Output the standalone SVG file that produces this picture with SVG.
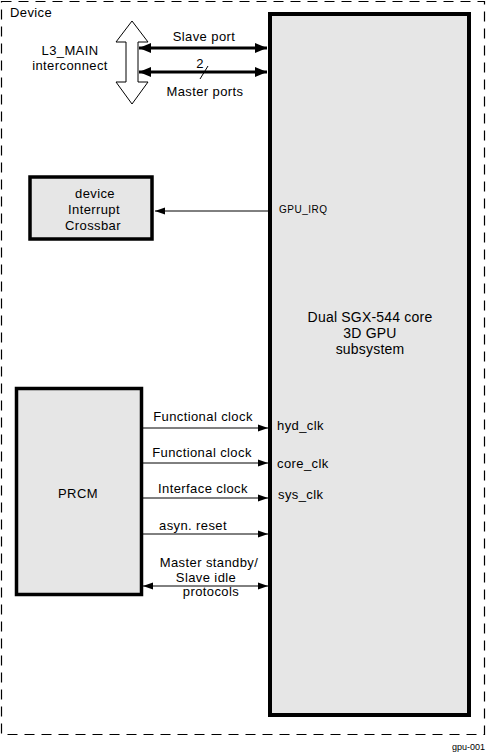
<svg xmlns="http://www.w3.org/2000/svg" width="487" height="754" viewBox="0 0 487 754">
<style>
text{font-family:"Liberation Sans",Arial,sans-serif;font-size:13px;letter-spacing:0.4px;fill:#000}
.box{fill:#e6e6e6;stroke:#000}
.thin{stroke:#000;stroke-width:1;fill:none}
.thick{stroke:#000;stroke-width:3;fill:none}
.m{text-anchor:middle}
.big{font-size:14px;letter-spacing:0.2px}
</style>
<defs>
<marker id="ah" markerUnits="userSpaceOnUse" markerWidth="10" markerHeight="10" viewBox="0 0 10 10" refX="10" refY="5" orient="auto-start-reverse">
<path d="M0,1.5 L10,5 L0,8.5 Z" fill="#000"/>
</marker>
<marker id="ahb" markerUnits="userSpaceOnUse" markerWidth="12" markerHeight="12" viewBox="0 0 12 12" refX="12" refY="6" orient="auto-start-reverse">
<path d="M0,1 L12,6 L0,11 Z" fill="#000"/>
</marker>
</defs>
<rect x="1.5" y="1.5" width="483" height="733" fill="#fff" stroke="#000" stroke-width="1.2" stroke-dasharray="10,7"/>
<text x="10" y="17">Device</text>

<g id="gpu">
<rect class="box" x="270" y="14" width="199" height="701" stroke-width="4"/>
<text class="m big" x="370" y="322">Dual SGX-544 core</text>
<text class="m big" x="370" y="338">3D GPU</text>
<text class="m big" x="370" y="354">subsystem</text>
<text x="279" y="213" style="font-size:10px;letter-spacing:0.5px">GPU_IRQ</text>
<text x="277" y="430">hyd_clk</text>
<text x="277" y="468">core_clk</text>
<text x="278" y="499">sys_clk</text>
</g>

<g id="l3main">
<polygon points="132,21 148,42 138,42 138,82 148,82 132,104 116,82 126,82 126,42 116,42" fill="#fff" stroke="#000" stroke-width="1"/>
<text class="m" x="70" y="55">L3_MAIN</text>
<text class="m" x="70" y="70">interconnect</text>
</g>

<g id="crossbar">
<rect class="box" x="30" y="177" width="122" height="62" stroke-width="3.5"/>
<text class="m" x="95" y="198">device</text>
<text class="m" x="94" y="214">Interrupt</text>
<text class="m" x="93" y="230">Crossbar</text>
</g>

<g id="prcm">
<rect class="box" x="16.5" y="388.5" width="125" height="206" stroke-width="3.5"/>
<text class="m" x="78" y="498">PRCM</text>
</g>

<g id="connectors">
<line class="thick" x1="139" y1="48" x2="267" y2="48" marker-start="url(#ahb)" marker-end="url(#ahb)"/>
<text class="m" x="204" y="41">Slave port</text>
<line class="thick" x1="139" y1="72" x2="267" y2="72" marker-start="url(#ahb)" marker-end="url(#ahb)"/>
<line class="thin" x1="200" y1="79" x2="208" y2="66"/>
<text class="m" x="200" y="68">2</text>
<text class="m" x="205" y="96">Master ports</text>

<line class="thin" x1="268" y1="211" x2="155" y2="211" marker-end="url(#ah)"/>

<line class="thin" x1="143" y1="428" x2="268" y2="428" marker-end="url(#ah)"/>
<text class="m" x="203" y="421">Functional clock</text>
<line class="thin" x1="143" y1="463" x2="268" y2="463" marker-end="url(#ah)"/>
<text class="m" x="202" y="457">Functional clock</text>
<line class="thin" x1="143" y1="498" x2="268" y2="498" marker-end="url(#ah)"/>
<text class="m" x="203" y="493">Interface clock</text>
<line class="thin" x1="143" y1="534" x2="268" y2="534" marker-end="url(#ah)"/>
<text x="159" y="530">asyn. reset</text>
<line class="thin" x1="143" y1="586" x2="268" y2="586" marker-start="url(#ah)" marker-end="url(#ah)"/>
<text class="m" x="209" y="567">Master standby/</text>
<text class="m" x="206" y="582">Slave idle</text>
<text class="m" x="211" y="596">protocols</text>
</g>
<text x="485" y="750" style="font-size:9px;letter-spacing:0;text-anchor:end">gpu-001</text>
</svg>
